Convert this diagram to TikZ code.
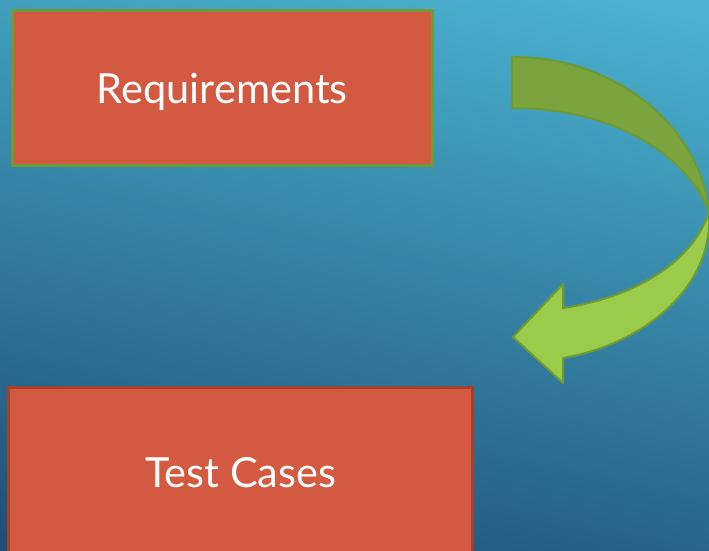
\documentclass[tikz,border=0pt]{standalone}
\usepackage{fontspec}
\setmainfont{Lato}
\begin{document}
\begin{tikzpicture}[x=1pt,y=-1pt]
\definecolor{bgtop}{HTML}{4AB2CF}
\definecolor{bgmid}{HTML}{3590B2}
\definecolor{bgbot}{HTML}{1F5079}
\definecolor{boxfill}{HTML}{D35A40}
\definecolor{reqborder}{HTML}{6F9A3A}
\definecolor{tcborder}{HTML}{A4402D}
\definecolor{arrowdark}{HTML}{7BA43E}
\definecolor{arrowlight}{HTML}{9BCB4B}
\definecolor{arrowedge}{HTML}{6E9B32}
\tikzset{
  box/.style={rectangle, fill=boxfill, line width=3pt, inner sep=0pt,
    text=white, font=\fontsize{41.5}{48}\selectfont,
    text height=30pt, text depth=0pt},
  arrowpart/.style={draw=arrowedge, line width=2pt, line join=round}
}
\useasboundingbox (0,0) rectangle (709,551);
\clip (0,0) rectangle (709,551);
\shade[top color=bgtop, middle color=bgmid, bottom color=bgbot, shading angle=-12]
  (-40,-40) rectangle (749,591);
\node[box, draw=reqborder, minimum width=420pt, minimum height=155pt]
  (req) at (222.4,88) {Requirements};
\node[box, draw=tcborder, minimum width=464pt, minimum height=169pt]
  (tc) at (240.7,472) {Test Cases};
% curved arrow, back (upper) part
\filldraw[arrowpart, fill=arrowdark]
  (512,57) .. controls (625,57) and (702,135) .. (709,212)
  .. controls (690,160) and (620,108) .. (512,108) -- cycle;
% front (lower) part with head
\filldraw[arrowpart, fill=arrowlight]
  (709,212) .. controls (714,290) and (640,345) .. (563,358)
  -- (563,383) -- (513,337) -- (563,284) -- (563,308)
  .. controls (620,300) and (690,270) .. (709,212) -- cycle;
\end{tikzpicture}
\end{document}
